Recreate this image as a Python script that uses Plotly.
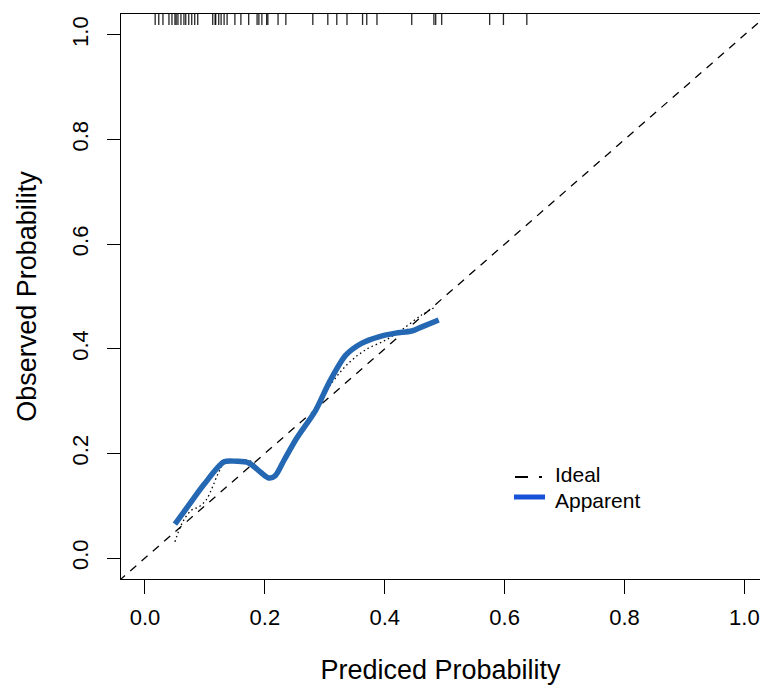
import plotly.graph_objects as go

# ---- data ----
apparent_x = [0.050, 0.073, 0.098, 0.132, 0.153, 0.173, 0.193, 0.207, 0.217, 0.232,
              0.253, 0.285, 0.307, 0.335, 0.362, 0.390, 0.418, 0.445, 0.462, 0.490]
apparent_y = [0.065, 0.101, 0.140, 0.184, 0.185, 0.182, 0.164, 0.153, 0.157, 0.187,
              0.229, 0.283, 0.335, 0.388, 0.411, 0.423, 0.430, 0.434, 0.442, 0.455]

raw_x = [0.050, 0.057, 0.065, 0.078, 0.090, 0.102, 0.112, 0.123, 0.133, 0.155,
         0.175, 0.193, 0.207, 0.217, 0.232, 0.253, 0.270, 0.290, 0.315, 0.340,
         0.368, 0.402, 0.428, 0.462, 0.485]
raw_y = [0.031, 0.054, 0.073, 0.092, 0.098, 0.111, 0.134, 0.164, 0.182, 0.186,
         0.186, 0.168, 0.156, 0.160, 0.190, 0.230, 0.260, 0.296, 0.340, 0.373,
         0.398, 0.417, 0.436, 0.465, 0.480]

ideal_x = [-0.1, 1.1]
ideal_y = [-0.1, 1.1]

rug_x = [0.017, 0.023, 0.030, 0.040, 0.045, 0.050, 0.052, 0.055, 0.060, 0.065,
         0.068, 0.073, 0.078, 0.083, 0.088, 0.113, 0.117, 0.118, 0.123, 0.127,
         0.132, 0.137, 0.150, 0.160, 0.173, 0.187, 0.190, 0.195, 0.203, 0.205,
         0.222, 0.235, 0.280, 0.305, 0.320, 0.337, 0.363, 0.370, 0.387, 0.445,
         0.482, 0.485, 0.495, 0.575, 0.598, 0.637]

tick_vals = [0.0, 0.2, 0.4, 0.6, 0.8, 1.0]
tick_text = ["0.0", "0.2", "0.4", "0.6", "0.8", "1.0"]

FONT = "Liberation Sans, Arial, sans-serif"

fig = go.Figure()

fig.add_trace(go.Scatter(x=ideal_x, y=ideal_y, mode="lines", showlegend=False,
                         line=dict(color="black", width=1.3, dash="8px,7px"),
                         hoverinfo="skip"))
fig.add_trace(go.Scatter(x=raw_x, y=raw_y, mode="lines", showlegend=False,
                         line=dict(color="black", width=1.3, dash="1.5px,3px", shape="spline"),
                         hoverinfo="skip"))
fig.add_trace(go.Scatter(x=apparent_x, y=apparent_y, mode="lines", showlegend=False,
                         name="Apparent",
                         line=dict(color="#2467b3", width=5.5, shape="spline", smoothing=0.8)))

W, H = 760, 685
ML, MT, MR, MB = 121, 14, 0, 106
PW, PH = W - ML - MR, H - MT - MB

def px_x(p):
    return (p - ML) / PW

def px_y(p):
    return (H - MB - p) / PH

shapes = []
for rx in rug_x:
    shapes.append(dict(type="line", xref="x", yref="paper", x0=rx, x1=rx,
                       y0=1, y1=1 - 11 / PH, line=dict(color="rgba(0,0,0,0.85)", width=1.3)))

# legend (manual, R style)
shapes.append(dict(type="line", xref="paper", yref="paper",
                   x0=px_x(515), x1=px_x(542), y0=px_y(477), y1=px_y(477),
                   line=dict(color="black", width=2, dash="13px,11px,3px")))
shapes.append(dict(type="line", xref="paper", yref="paper",
                   x0=px_x(514), x1=px_x(545), y0=px_y(497), y1=px_y(497),
                   line=dict(color="#1652d8", width=5)))

annotations = [
    dict(text="Ideal", xref="paper", yref="paper", x=px_x(553), y=px_y(488),
         xanchor="left", yanchor="bottom", showarrow=False,
         font=dict(family=FONT, size=21, color="black")),
    dict(text="Apparent", xref="paper", yref="paper", x=px_x(553), y=px_y(487),
         xanchor="left", yanchor="top", showarrow=False,
         font=dict(family=FONT, size=21, color="black")),
]

fig.update_layout(
    width=W, height=H,
    margin=dict(l=ML, r=MR, t=MT, b=MB, pad=0),
    paper_bgcolor="white", plot_bgcolor="white",
    font=dict(family=FONT, color="black"),
    shapes=shapes, annotations=annotations,
    showlegend=False,
)

fig.update_xaxes(
    range=[-0.04, 1.026], tickvals=tick_vals, ticktext=tick_text,
    showgrid=False, zeroline=False, showline=True, linecolor="black", linewidth=1.3,
    mirror=True, ticks="outside", ticklen=14, tickwidth=1.3, tickcolor="black",
    tickfont=dict(family=FONT, size=22), ticklabelstandoff=4,
    title=dict(text="Prediced Probability", font=dict(family=FONT, size=27), standoff=38),
    automargin=False,
)
fig.update_yaxes(
    range=[-0.04, 1.04], tickvals=tick_vals, ticktext=tick_text, tickangle=-90,
    showgrid=False, zeroline=False, showline=True, linecolor="black", linewidth=1.3,
    mirror=False, ticks="outside", ticklen=13, tickwidth=1.3, tickcolor="black",
    tickfont=dict(family=FONT, size=22), ticklabelstandoff=10,
    title=dict(text="Observed Probability", font=dict(family=FONT, size=27), standoff=23),
    automargin=False,
)

fig.write_html("out.html", config={"displayModeBar": False},
               post_script="document.body.style.margin='0';")
